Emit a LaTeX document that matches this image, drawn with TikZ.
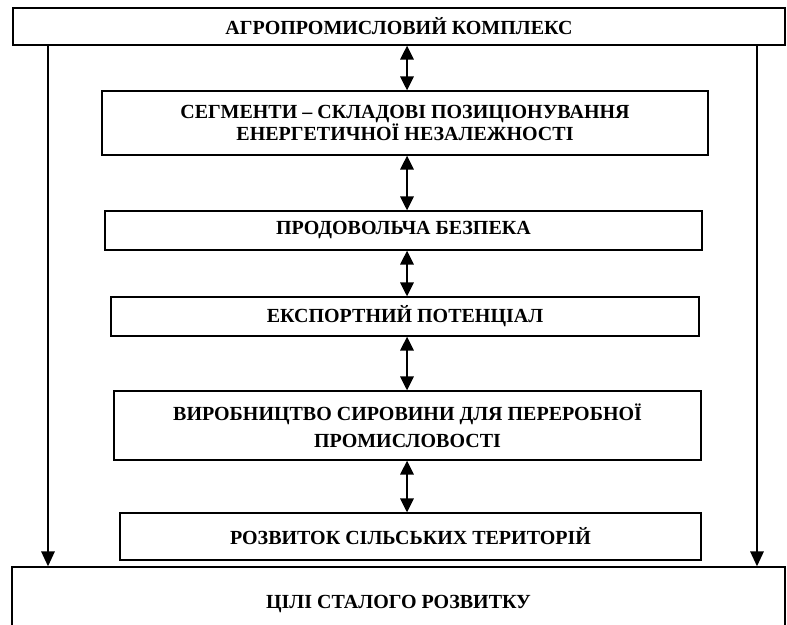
\documentclass[tikz,border=0pt]{standalone}
\usepackage{fontspec}
\setmainfont{Liberation Serif}
\usetikzlibrary{arrows.meta,calc}

\begin{document}
\begin{tikzpicture}[x=1pt,y=-1pt,
    blok/.style={draw,line width=1.1pt,inner sep=0pt,align=center,
      font=\fontsize{20}{22}\selectfont\bfseries},
    dvi/.style={line width=2.8pt,{Triangle[length=14pt,width=13pt]}-{Triangle[length=14pt,width=13pt]}},
    bik/.style={line width=2.8pt,-{Triangle[length=15pt,width=13pt]}}]
                \useasboundingbox (0,0) rectangle (787,624);
                \coordinate (ax) at (407,0);
                \coordinate (lx) at (48,0);
                \coordinate (rx) at (757,0);
                \node[blok,minimum width=772pt,minimum height=37pt] (apk) at (399,26.5) {АГРОПРОМИСЛОВИЙ КОМПЛЕКС};
                \node[blok,minimum width=606pt,minimum height=64pt] (seg) at (405,123) {СЕГМЕНТИ – СКЛАДОВІ ПОЗИЦІОНУВАННЯ\\ЕНЕРГЕТИЧНОЇ НЕЗАЛЕЖНОСТІ};
                \node[blok,minimum width=597pt,minimum height=39pt] (prod) at (403.5,230.5) {ПРОДОВОЛЬЧА БЕЗПЕКА};
                \node[blok,minimum width=588pt,minimum height=39pt] (eksp) at (405,316.5) {ЕКСПОРТНИЙ ПОТЕНЦІАЛ};
                \node[blok,minimum width=587pt,minimum height=69pt] (syr) at (407.5,425.5) {ВИРОБНИЦТВО СИРОВИНИ ДЛЯ ПЕРЕРОБНОЇ\\[5pt]ПРОМИСЛОВОСТІ};
                \node[blok,minimum width=581pt,minimum height=47pt] (sil) at (410.5,536.5) {РОЗВИТОК СІЛЬСЬКИХ ТЕРИТОРІЙ};
                \node[blok,minimum width=773pt,minimum height=74pt] (tsil) at (398.5,604) {ЦІЛІ СТАЛОГО РОЗВИТКУ};
                \draw[dvi] (apk.south -| ax) -- (seg.north -| ax);
                \draw[dvi] (seg.south -| ax) -- (prod.north -| ax);
                \draw[dvi] (prod.south -| ax) -- (eksp.north -| ax);
                \draw[dvi] (eksp.south -| ax) -- (syr.north -| ax);
                \draw[dvi] (syr.south -| ax) -- (sil.north -| ax);
                \foreach \side in {lx,rx}
                    \draw[bik] (apk.south -| \side) -- (tsil.north -| \side);
\end{tikzpicture}
\end{document}
